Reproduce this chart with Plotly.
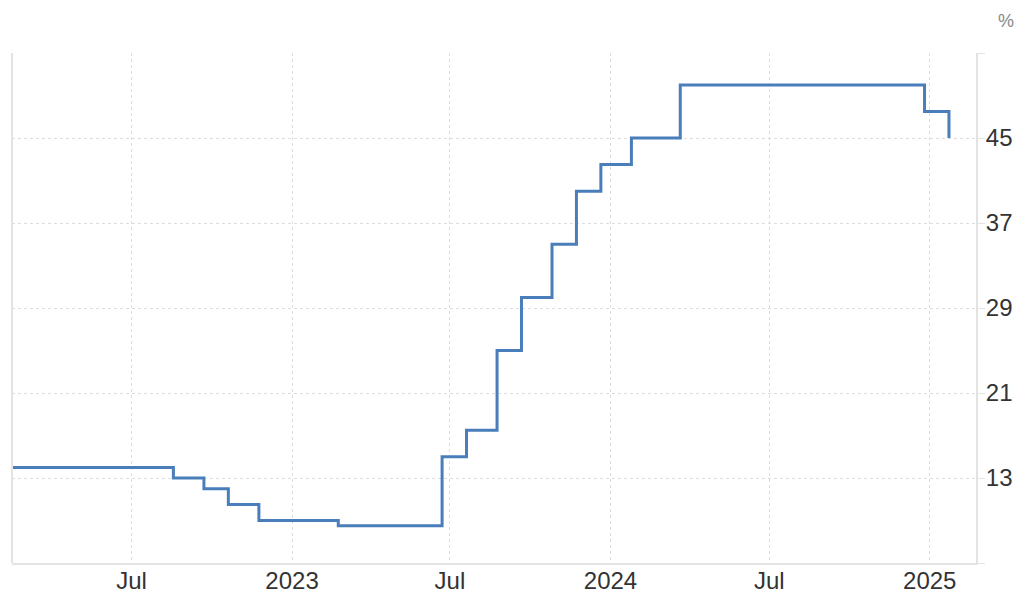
import plotly.graph_objects as go

dates = ["2022-02-14", "2022-08-18", "2022-09-22", "2022-10-20", "2022-11-24",
         "2023-02-23", "2023-06-22", "2023-07-20", "2023-08-24", "2023-09-21",
         "2023-10-26", "2023-11-23", "2023-12-21", "2024-01-25", "2024-03-21",
         "2024-12-26", "2025-01-23"]
rates = [14, 13, 12, 10.5, 9, 8.5, 15, 17.5, 25, 30, 35, 40, 42.5, 45, 50, 47.5, 45]

x_tickvals = ["2022-07-01", "2023-01-01", "2023-07-01", "2024-01-01", "2024-07-01", "2025-01-01"]
x_ticktext = ["Jul", "2023", "Jul", "2024", "Jul", "2025"]
y_tickvals = [5, 13, 21, 29, 37, 45, 53]
y_ticktext = ["", "13", "21", "29", "37", "45", ""]

fig = go.Figure()
fig.add_trace(go.Scatter(x=dates, y=rates, mode="lines", line=dict(shape="hv", color="#4a7ebb", width=3),
                         hoverinfo="x+y"))

# page body has an 8px margin, so the figure is sized/offset to compensate
fig.update_layout(
    width=1015, height=600,
    margin=dict(l=4, r=47, t=45, b=45),
    paper_bgcolor="white", plot_bgcolor="white",
    showlegend=False,
    font=dict(family="Liberation Sans, Arial", color="#333333", size=24),
    xaxis=dict(range=["2022-02-14", "2025-02-23"], tickvals=x_tickvals, ticktext=x_ticktext,
               showgrid=True, gridcolor="#dddddd", griddash="dot", gridwidth=1,
               showline=True, linecolor="#e3e3e3", linewidth=2, ticks="", zeroline=False,
               tickfont=dict(size=24, color="#333333"), automargin=False, ticklabelstandoff=-5),
    yaxis=dict(range=[5, 53], tickvals=y_tickvals, ticktext=y_ticktext, side="right",
               showgrid=True, gridcolor="#dddddd", griddash="dot", gridwidth=1,
               showline=True, linecolor="#e3e3e3", linewidth=2, ticks="outside", ticklen=7,
               tickcolor="#e3e3e3", zeroline=False, tickfont=dict(size=24, color="#333333"),
               automargin=False, ticklabelstandoff=-4),
)
fig.add_shape(type="line", xref="paper", yref="paper", x0=0, x1=0, y0=0, y1=1,
              line=dict(color="#e3e3e3", width=2))
fig.add_annotation(text="%", xref="paper", yref="paper", x=1.031, y=1.063, showarrow=False,
                   xanchor="center", yanchor="middle", font=dict(size=18, color="#888888"))
fig.write_html("out.html")
